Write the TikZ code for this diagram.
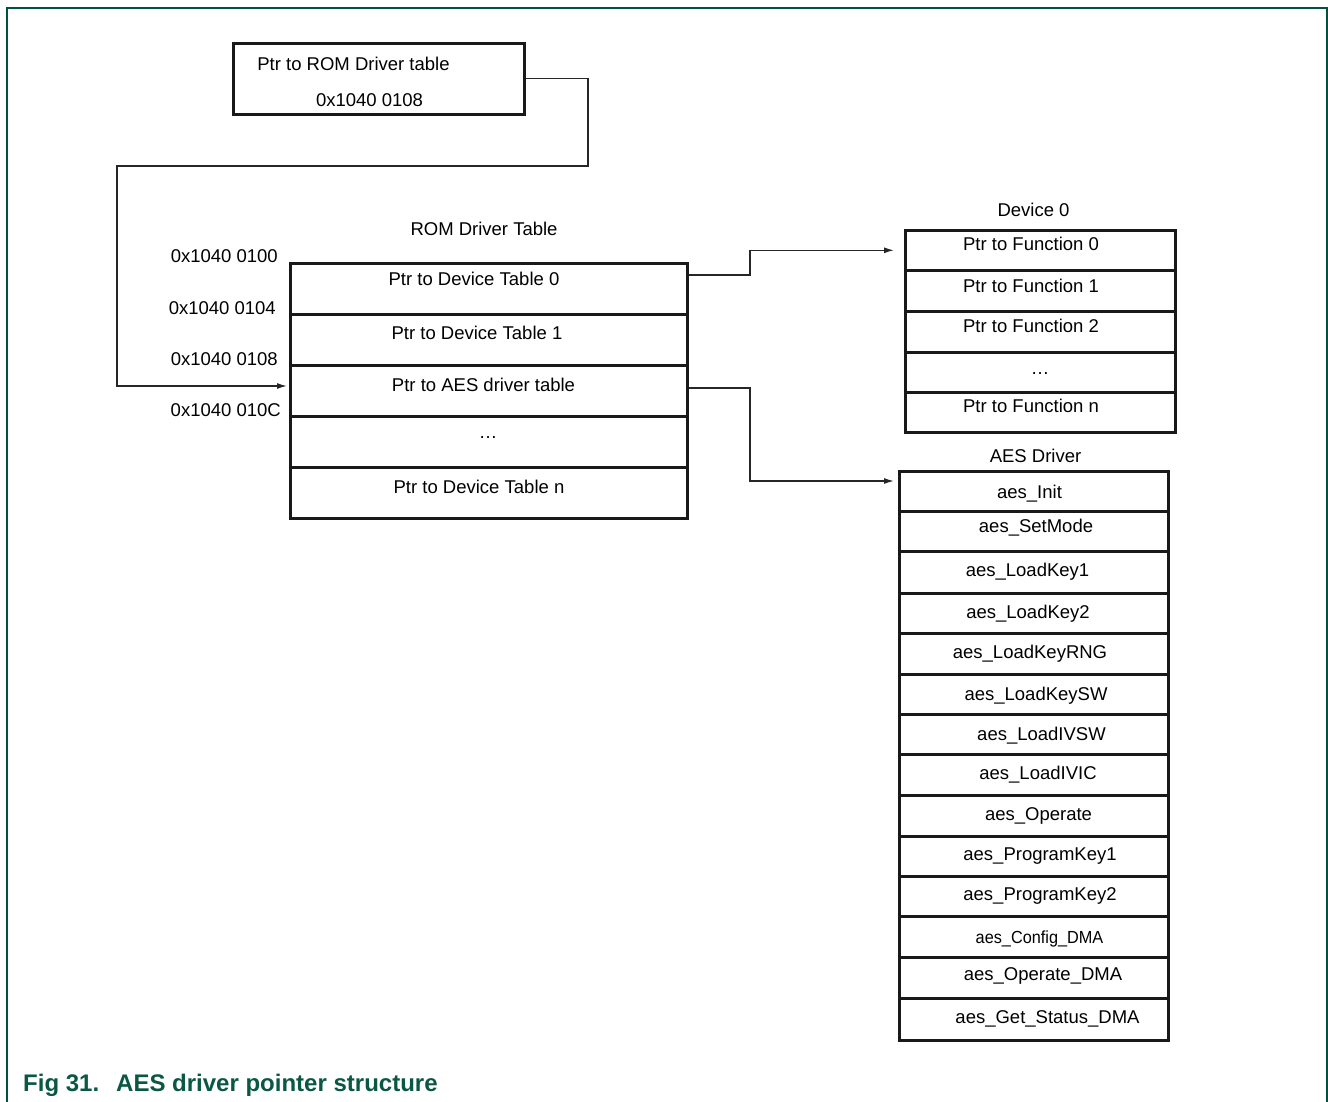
\documentclass[tikz,border=0pt]{standalone}
\usepackage{fontspec}
\setmainfont{Liberation Sans}
\newfontfamily\narrowfont{Liberation Sans}[FakeStretch=0.93]
\usetikzlibrary{arrows.meta,calc}
\definecolor{nxpgreen}{RGB}{0,82,64}
\definecolor{capgreen}{RGB}{10,88,68}
\tikzset{
  cell/.style={draw=black!90, line width=2.6pt, inner sep=0pt, anchor=north west},
  txt/.style={inner sep=0pt, text height=13.3pt, text depth=0pt, font=\fontsize{18.5}{22}\selectfont},
  conn/.style={draw=black!85, line width=1.3pt},
  arr/.style={conn, -{Latex[length=10pt,width=6pt]}},
}
\begin{document}
\begin{tikzpicture}[x=1pt,y=-1pt]
\useasboundingbox (0,0) rectangle (1328,1102);
% frame
\draw[nxpgreen, line width=1.6pt] (7,1102) -- (7,8) -- (1327,8) -- (1327,1102);

% top pointer box
\node[cell, minimum width=291pt, minimum height=71pt] (top) at (232,42) {};
\node[txt] (toptxt1) at (353.5,64) {Ptr to ROM Driver table};
\node[txt] (toptxt2) at (369.5,100) {0x1040 0108};

% ROM driver table
\node[txt] (romlbl) at (484,229) {ROM Driver Table};
\node[cell, minimum width=397pt, minimum height=51pt] (r1) at (289,262) {};
\node[cell, minimum width=397pt, minimum height=51pt] (r2) at (289,313) {};
\node[cell, minimum width=397pt, minimum height=51pt] (r3) at (289,364) {};
\node[cell, minimum width=397pt, minimum height=51pt] (r4) at (289,415) {};
\node[cell, minimum width=397pt, minimum height=51pt] (r5) at (289,466) {};
\node[txt] (r1t) at (474,279) {Ptr to Device Table 0};
\node[txt] (r2t) at (477,333) {Ptr to Device Table 1};
\node[txt] (r3t) at (483.5,385) {Ptr to AES driver table};
\node[txt] (r4t) at (488,432) {…};
\node[txt] (r5t) at (479,487) {Ptr to Device Table n};

% addresses
\node[txt, anchor=east] (a0) at (278,256) {0x1040 0100};
\node[txt, anchor=east] (a4) at (276,308) {0x1040 0104};
\node[txt, anchor=east] (a8) at (278,359) {0x1040 0108};
\node[txt, anchor=east] (aC) at (281,410) {0x1040 010C};

% Device 0 table
\node[txt] (devlbl) at (1033.5,210) {Device 0};
\node[cell, minimum width=270pt, minimum height=40pt] (d1) at (904,229) {};
\node[cell, minimum width=270pt, minimum height=41pt] (d2) at (904,269) {};
\node[cell, minimum width=270pt, minimum height=41pt] (d3) at (904,310) {};
\node[cell, minimum width=270pt, minimum height=40pt] (d4) at (904,351) {};
\node[cell, minimum width=270pt, minimum height=40pt] (d5) at (904,391) {};
\node[txt] (d1t) at (1031,244) {Ptr to Function 0};
\node[txt] (d2t) at (1031,286) {Ptr to Function 1};
\node[txt] (d3t) at (1031,326) {Ptr to Function 2};
\node[txt] (d4t) at (1040,368) {…};
\node[txt] (d5t) at (1031,406) {Ptr to Function n};

% AES driver table
\node[txt] (aeslbl) at (1035.5,456) {AES Driver};
\foreach \i/\ya/\yb in {1/470/510,2/510/550,3/550/592,4/592/632,5/632/673,6/673/713,7/713/753,8/753/794,9/794/835,10/835/875,11/875/915,12/915/956,13/956/997,14/997/1039}{
  \node[cell, minimum width=269pt, minimum height={\yb-\ya}] (e\i) at (898,\ya) {};
}
\node[txt] (e1t) at (1029.5,492) {aes\_Init};
\node[txt] (e2t) at (1036,526) {aes\_SetMode};
\node[txt] (e3t) at (1027.5,570) {aes\_LoadKey1};
\node[txt] (e4t) at (1028,612) {aes\_LoadKey2};
\node[txt] (e5t) at (1030,652) {aes\_LoadKeyRNG};
\node[txt] (e6t) at (1036,694) {aes\_LoadKeySW};
\node[txt] (e7t) at (1041.5,734) {aes\_LoadIVSW};
\node[txt] (e8t) at (1038,773) {aes\_LoadIVIC};
\node[txt] (e9t) at (1038.5,814) {aes\_Operate};
\node[txt] (e10t) at (1040,854) {aes\_ProgramKey1};
\node[txt] (e11t) at (1040,894) {aes\_ProgramKey2};
\node[txt, text height=12.6pt, font=\narrowfont\fontsize{17.5}{20}\selectfont] (e12t) at (1039.5,937) {aes\_Config\_DMA};
\node[txt] (e13t) at (1043,974) {aes\_Operate\_DMA};
\node[txt] (e14t) at (1047.5,1017) {aes\_Get\_Status\_DMA};

% connectors
\coordinate (b1) at (588,166);
\coordinate (b2) at (117,166);
\coordinate (r3in) at ($(r3.north west)+(-2,22)$);
\draw[arr] (top.east) -| (b1) -- (b2) |- (r3in);

\coordinate (r1out) at ($(r1.north east)+(0,13)$);
\coordinate (d1in) at ($(d1.west)+(-10,0)$);
\draw[arr] (r1out) -- (750,275) |- (d1in);

\coordinate (r3out) at ($(r3.north east)+(0,24)$);
\coordinate (e1in) at ($(e1.north west)+(-4,11)$);
\draw[arr] (r3out) -- (750,388) |- (e1in);

% caption
\node[inner sep=0pt, anchor=west, text=capgreen, text height=17pt, text depth=0pt,
      font=\bfseries\fontsize{24}{28}\selectfont] (cap) at (23,1083) {Fig 31.\hspace{17pt}AES driver pointer structure};
\end{tikzpicture}
\end{document}
